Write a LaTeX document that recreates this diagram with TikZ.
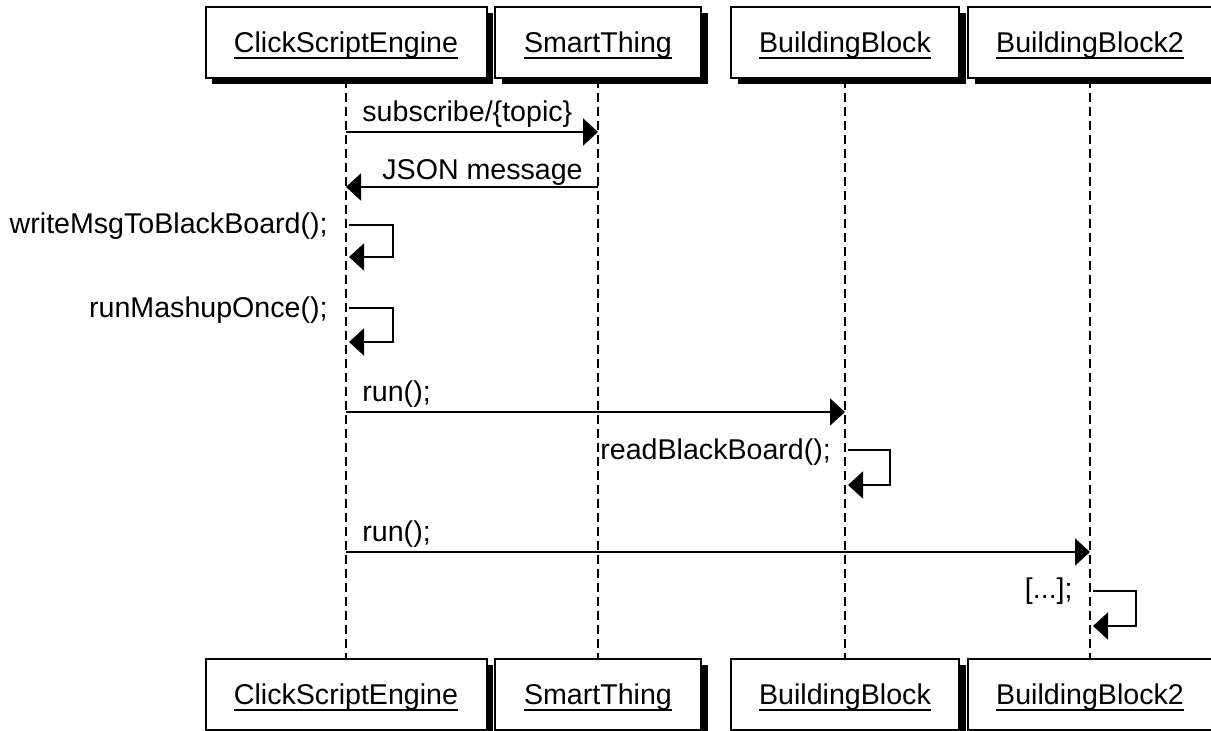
\documentclass[tikz,border=0pt]{standalone}
\usepackage{fontspec}
\setmainfont{Liberation Sans}
\usetikzlibrary{arrows.meta,shadows,calc}

% underlined object name
\newcommand{\objname}[1]{\setbox0\hbox{#1}\rlap{\rule[-3pt]{\wd0}{1pt}}\box0}

\tikzset{
  obj/.style={draw, line width=1pt, fill=white, minimum height=35.5pt, text depth=0pt,
    font=\fontsize{14.3pt}{17pt}\selectfont,
    drop shadow={shadow xshift=3.25pt, shadow yshift=-3.25pt, fill=black, opacity=1}},
  lifeline/.style={line width=1pt, dash pattern=on 4.5pt off 2.5pt},
  msg/.style={line width=1pt, -{Triangle[length=7.5pt,width=13.5pt]}},
  lbl/.style={font=\fontsize{14.3pt}{17pt}\selectfont, inner sep=0pt}
}

\begin{document}
\begin{tikzpicture}[x=0.5pt, y=-0.5pt]
    \useasboundingbox (0,0) rectangle (1211,731);
    % objects, top and bottom
    \node[obj, minimum width=140.5pt] (cse)  at (346,42.5) {\objname{ClickScriptEngine}};
    \node[obj, minimum width=103pt]   (st)   at (598,42.5) {\objname{SmartThing}};
    \node[obj, minimum width=114pt]   (bb)   at (845,42.5) {\objname{BuildingBlock}};
    \node[obj, minimum width=122pt]   (bbb)  at (1090,42.5) {\objname{BuildingBlock2}};
    \node[obj, minimum width=140.5pt] (cseB) at (346,694.5) {\objname{ClickScriptEngine}};
    \node[obj, minimum width=103pt]   (stB)  at (598,694.5) {\objname{SmartThing}};
    \node[obj, minimum width=114pt]   (bbB)  at (845,694.5) {\objname{BuildingBlock}};
    \node[obj, minimum width=122pt]   (bbbB) at (1090,694.5) {\objname{BuildingBlock2}};
    % lifelines
    \draw[lifeline] (cse) -- (cseB);
    \draw[lifeline] (st) -- (stB);
    \draw[lifeline] (bb) -- (bbB);
    \draw[lifeline] (bbb) -- (bbbB);
    % rows
    \coordinate (r1) at (0,132);
    \coordinate (r2) at (0,187);
    \coordinate (w1) at (0,225);
    \coordinate (w2) at (0,257);
    \coordinate (m1) at (0,308);
    \coordinate (m2) at (0,342);
    \coordinate (r5) at (0,412);
    \coordinate (b1) at (0,450);
    \coordinate (b2) at (0,485);
    \coordinate (r7) at (0,552);
    \coordinate (d1) at (0,591);
    \coordinate (d2) at (0,626);
    % messages
    \draw[msg] (cse |- r1) -- (st |- r1);
    \node[lbl, anchor=base west] (subLbl) at (362,122) {subscribe/\{topic\}};
    \draw[msg] (st |- r2) -- (cse |- r2);
    \node[lbl, anchor=base west] (jsonLbl) at (382,180) {JSON message};
    \draw[msg] ($(cse |- w1)+(3,0)$) -- ++(44,0) |- ($(cse |- w2)+(3,0)$);
    \node[lbl, anchor=base east] (writeLbl) at (328,234) {writeMsgToBlackBoard();};
    \draw[msg] ($(cse |- m1)+(3,0)$) -- ++(44,0) |- ($(cse |- m2)+(3,0)$);
    \node[lbl, anchor=base east] (mashLbl) at (328,318) {runMashupOnce();};
    \draw[msg] (cse |- r5) -- (bb |- r5);
    \node[lbl, anchor=base west] (runLbl) at (362,402) {run();};
    \draw[msg] ($(bb |- b1)+(3,0)$) -- ++(42,0) |- ($(bb |- b2)+(3,0)$);
    \node[lbl, anchor=base west] (readLbl) at (600,460) {readBlackBoard();};
    \draw[msg] (cse |- r7) -- (bbb |- r7);
    \node[lbl, anchor=base west] (runLblB) at (362,542) {run();};
    \draw[msg] ($(bbb |- d1)+(3,0)$) -- ++(43,0) |- ($(bbb |- d2)+(3,0)$);
    \node[lbl, anchor=base east] (dotsLbl) at (1073,599) {[...];};
\end{tikzpicture}
\end{document}
